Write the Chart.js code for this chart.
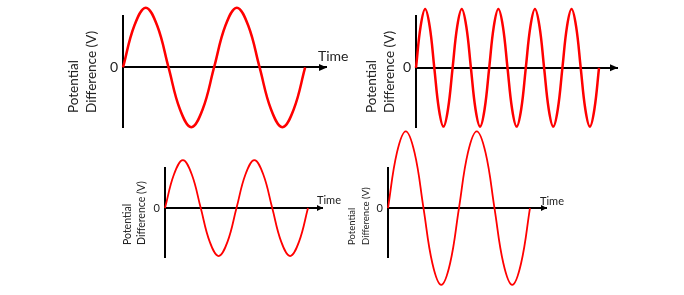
<!DOCTYPE html>
<html>
<head>
<meta charset="utf-8">
<script src="https://cdn.jsdelivr.net/npm/chart.js@4/dist/chart.umd.min.js"></script>
<style>
    body { margin: 0; background: #fff; }
    #wrap { position: relative; width: 684px; height: 295px; overflow: hidden; font-family: Lato, "Open Sans", sans-serif; color: #222; }
    canvas { position: absolute; }
    .ylab { position: absolute; transform: rotate(-90deg); transform-origin: left top; white-space: nowrap; }
    .tlab { position: absolute; white-space: nowrap; }
</style>
</head>
<body>
<div id="wrap">
    <canvas id="waveA" width="342" height="140" style="left:0;top:0"></canvas>
    <canvas id="waveB" width="342" height="140" style="left:342px;top:0"></canvas>
    <canvas id="waveC" width="342" height="155" style="left:0;top:140px"></canvas>
    <canvas id="waveD" width="342" height="170" style="left:342px;top:125px"></canvas>

    <div class="ylab" style="left:64px;top:113px;font-size:13.5px;line-height:18px">Potential<br>Difference (V)</div>
    <div class="tlab" style="left:318px;top:48px;font-size:14px;line-height:16px">Time</div>

    <div class="ylab" style="left:362px;top:113px;font-size:13.5px;line-height:18px">Potential<br>Difference (V)</div>

    <div class="ylab" style="left:120px;top:245px;font-size:10.5px;line-height:14px">Potential<br>Difference (V)</div>
    <div class="tlab" style="left:317px;top:193px;font-size:11px;line-height:13px">Time</div>

    <div class="ylab" style="left:345px;top:245px;font-size:9.5px;line-height:14px">Potential<br>Difference (V)</div>
    <div class="tlab" style="left:540px;top:194px;font-size:11px;line-height:13px">Time</div>
</div>

<script>
// 波形数据 (时间 ms, 电压 V) — 每 1/8 周期读一个点
const timeA  = [0, 2.5, 5, 7.5, 10, 12.5, 15, 17.5, 20, 22.5, 25, 27.5, 30, 32.5, 35, 37.5, 40];
const voltsA = [0, 1.4, 2, 1.4, 0, -1.4, -2, -1.4, 0, 1.4, 2, 1.4, 0, -1.4, -2, -1.4, 0];

const timeB  = [0, 1, 2, 3, 4, 5, 6, 7, 8, 9, 10, 11, 12, 13, 14, 15, 16, 17, 18, 19, 20,
                21, 22, 23, 24, 25, 26, 27, 28, 29, 30, 31, 32, 33, 34, 35, 36, 37, 38, 39, 40];
const voltsB = [0, 1.4, 2, 1.4, 0, -1.4, -2, -1.4, 0, 1.4, 2, 1.4, 0, -1.4, -2, -1.4, 0,
                1.4, 2, 1.4, 0, -1.4, -2, -1.4, 0, 1.4, 2, 1.4, 0, -1.4, -2, -1.4, 0,
                1.4, 2, 1.4, 0, -1.4, -2, -1.4, 0];

const timeC  = [0, 2.5, 5, 7.5, 10, 12.5, 15, 17.5, 20, 22.5, 25, 27.5, 30, 32.5, 35, 37.5, 40];
const voltsC = [0, 1.4, 2, 1.4, 0, -1.4, -2, -1.4, 0, 1.4, 2, 1.4, 0, -1.4, -2, -1.4, 0];

const timeD  = [0, 2.5, 5, 7.5, 10, 12.5, 15, 17.5, 20, 22.5, 25, 27.5, 30, 32.5, 35, 37.5, 40];
const voltsD = [0, 2.3, 3.2, 2.3, 0, -2.3, -3.2, -2.3, 0, 2.3, 3.2, 2.3, 0, -2.3, -3.2, -2.3, 0];

// y 轴固定宽度（放 "0" 标签）
const AXIS_W = 20;

// 坐标轴末端的箭头
const arrowPlugin = {
    id: 'arrow',
    afterDraw(chart, args, opts) {
        const ctx = chart.ctx;
        const x = chart.chartArea.right;
        const y = chart.scales.y.getPixelForValue(0);
        ctx.save();
        ctx.fillStyle = '#000';
        ctx.beginPath();
        ctx.moveTo(x, y);
        ctx.lineTo(x - opts.len, y - opts.half);
        ctx.lineTo(x - opts.len, y + opts.half);
        ctx.closePath();
        ctx.fill();
        ctx.restore();
    }
};

function makeWave(id, times, volts, cfg) {
    const ctx = document.getElementById(id).getContext('2d');
    return new Chart(ctx, {
        type: 'line',
        data: {
            datasets: [{
                data: times.map((t, i) => ({ x: t, y: volts[i] })),
                borderColor: '#ff0000',
                borderWidth: cfg.waveWidth,
                pointRadius: 0,
                tension: 0.4,
                clip: false
            }]
        },
        options: {
            responsive: false,
            animation: false,
            devicePixelRatio: 1,
            layout: { padding: cfg.pad },
            plugins: {
                legend: { display: false },
                tooltip: { enabled: false },
                arrow: cfg.arrow
            },
            scales: {
                x: { type: 'linear', display: false, min: 0, max: cfg.xMax },
                y: {
                    min: cfg.yMin,
                    max: cfg.yMax,
                    afterBuildTicks: s => { s.ticks = [{ value: 0 }]; },
                    afterFit: s => { s.width = AXIS_W; },
                    grid: { color: '#000', lineWidth: cfg.axisWidth, drawTicks: false },
                    border: { display: true, color: '#000', width: cfg.axisWidth },
                    ticks: {
                        color: '#222',
                        padding: 5,
                        font: { family: 'Lato', size: cfg.tickSize }
                    }
                }
            }
        },
        plugins: [arrowPlugin]
    });
}

makeWave('waveA', timeA, voltsA, {
    pad: { left: 123 - AXIS_W, top: 16, right: 15, bottom: 13 },
    xMax: 44.8, yMin: -1.98, yMax: 1.72,
    waveWidth: 2.5, axisWidth: 2, tickSize: 14,
    arrow: { len: 8, half: 3.5 }
});

makeWave('waveB', timeB, voltsB, {
    pad: { left: 74 - AXIS_W, top: 16, right: 66, bottom: 13 },
    xMax: 44.15, yMin: -2.0, yMax: 1.76,
    waveWidth: 2.5, axisWidth: 2, tickSize: 14,
    arrow: { len: 8, half: 3.5 }
});

makeWave('waveC', timeC, voltsC, {
    pad: { left: 165 - AXIS_W, top: 28, right: 19, bottom: 38 },
    xMax: 44.2, yMin: -2.04, yMax: 1.67,
    waveWidth: 1.8, axisWidth: 2, tickSize: 11,
    arrow: { len: 6, half: 3 }
});

makeWave('waveD', timeD, voltsD, {
    pad: { left: 46 - AXIS_W, top: 43, right: 137, bottom: 38 },
    xMax: 44.8, yMin: -2.04, yMax: 1.67,
    waveWidth: 1.8, axisWidth: 2, tickSize: 11,
    arrow: { len: 6, half: 3 }
});
</script>
</body>
</html>
